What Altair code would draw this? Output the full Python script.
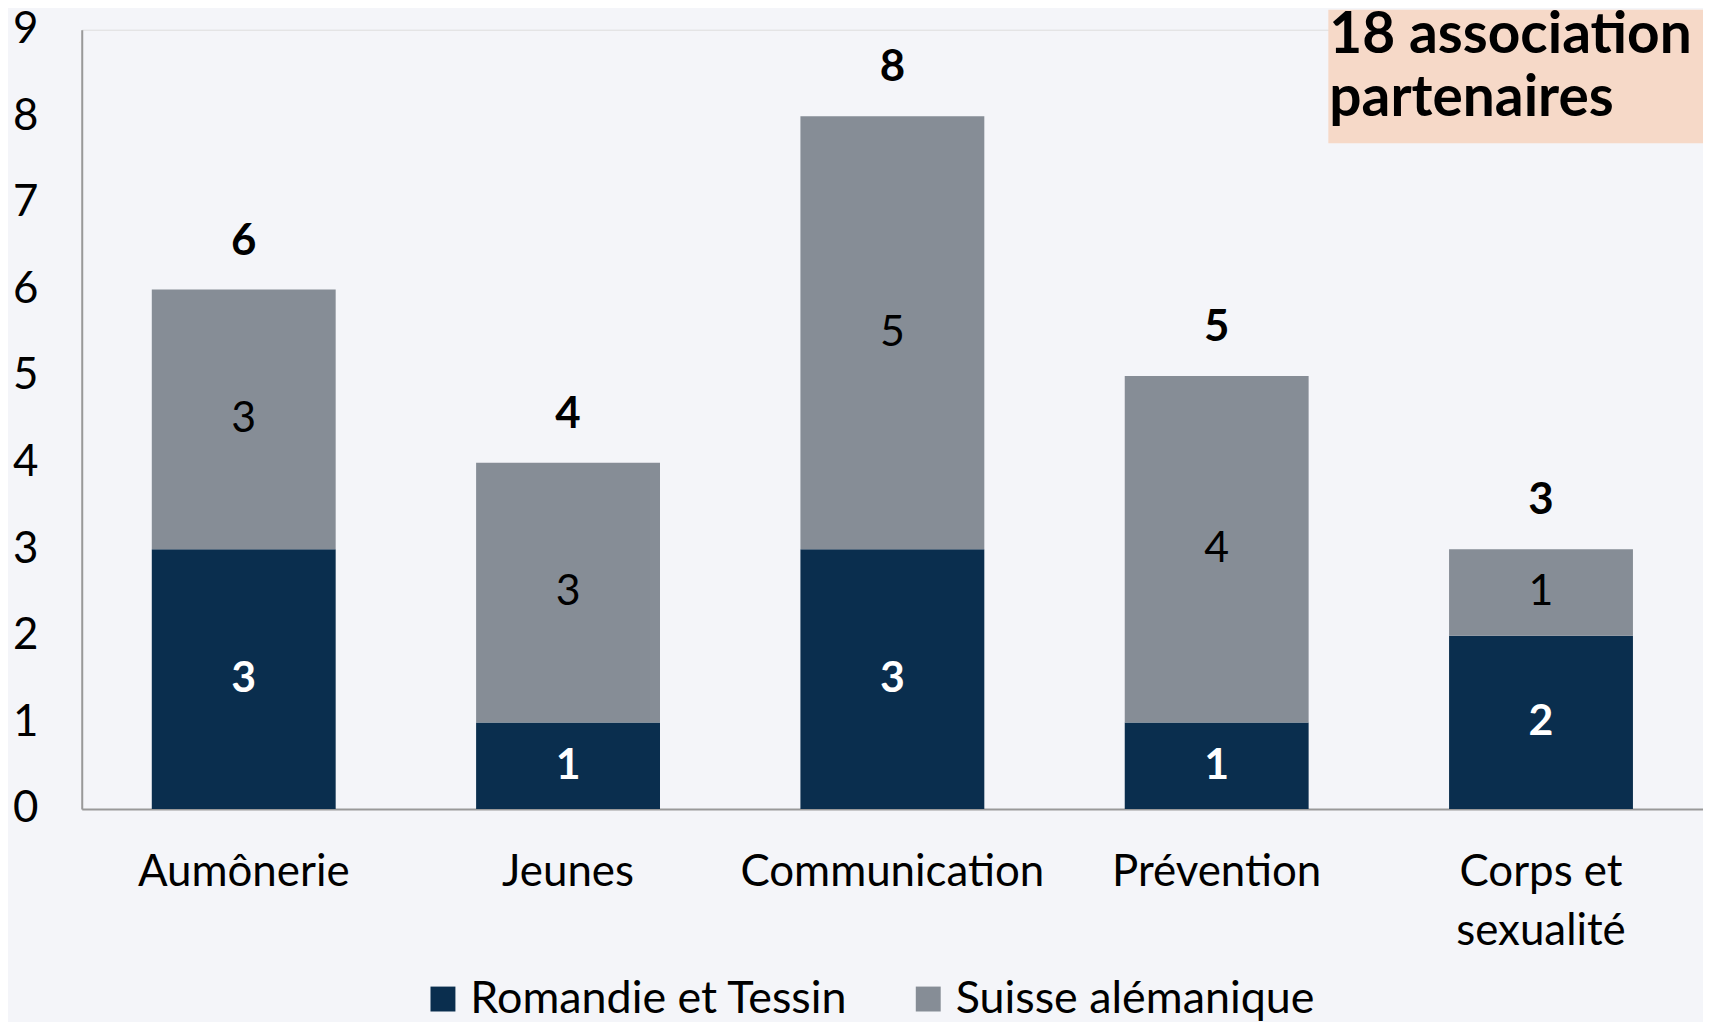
import altair as alt
import pandas as pd

categories = ["Aumônerie", "Jeunes", "Communication", "Prévention", "Corps et sexualité"]
romandie = [3, 1, 3, 1, 2]
suisse = [3, 3, 5, 4, 1]
regions = ["Romandie et Tessin", "Suisse alémanique"]
y_ticks = list(range(0, 10))
note_lines = ["18 association", "partenaires"]

NAVY = "#0A2E4E"
GRAY = "#868D96"
BG = "#F4F5F9"
PEACH = "#F6D9C8"
FONT = "Lato"

rows = []
for c, r, s in zip(categories, romandie, suisse):
    rows.append({"cat": c, "region": regions[0], "value": r, "ord": 0})
    rows.append({"cat": c, "region": regions[1], "value": s, "ord": 1})
df = pd.DataFrame(rows)
totals = pd.DataFrame({"cat": categories, "total": [r + s for r, s in zip(romandie, suisse)]})

x_enc = alt.X(
    "cat:N",
    sort=categories,
    scale=alt.Scale(paddingInner=0.433, paddingOuter=0.216),
    axis=alt.Axis(
        title=None, labelAngle=0, labelFont=FONT, labelFontSize=44, labelColor="black",
        labelBaseline="top", labelPadding=42, labelLineHeight=59, labelLimit=0,
        ticks=False, domainColor="#999999", domainWidth=2,
        labelExpr="datum.label == 'Corps et sexualité' ? ['Corps et', 'sexualité'] : datum.label",
    ),
)
y_scale = alt.Scale(domain=[0, 9], nice=False)
y_axis = alt.Axis(
    title=None, values=y_ticks, format="d", labelFont=FONT, labelFontSize=44, labelColor="black",
    labelPadding=44, ticks=False, grid=False, domainColor="#999999", domainWidth=2,
)

base = alt.Chart(df)

bars = base.mark_bar().encode(
    x=x_enc,
    y=alt.Y("value:Q", stack="zero", scale=y_scale, axis=y_axis),
    color=alt.Color(
        "region:N",
        scale=alt.Scale(domain=regions, range=[NAVY, GRAY]),
        legend=alt.Legend(
            title=None, orient="none", legendX=340, legendY=950, direction="horizontal",
            symbolType="square", symbolSize=625, symbolStrokeWidth=0, symbolOpacity=1,
            labelFont=FONT, labelFontSize=45, labelColor="black", labelOffset=5,
            columnPadding=58, labelLimit=0,
        ),
    ),
    order=alt.Order("ord:Q"),
)

stacked = base.transform_stack(
    stack="value", groupby=["cat"], as_=["y0", "y1"], sort=[alt.SortField("ord")]
).transform_calculate(mid="(datum.y0 + datum.y1) / 2")

lab_dark = stacked.transform_filter(alt.datum.ord == 0).mark_text(
    font=FONT, fontSize=43, fontWeight="bold", color="white", baseline="middle"
).encode(x=alt.X("cat:N", sort=categories), y="mid:Q", text="value:Q")

lab_gray = stacked.transform_filter(alt.datum.ord == 1).mark_text(
    font=FONT, fontSize=43, color="black", baseline="middle"
).encode(x=alt.X("cat:N", sort=categories), y="mid:Q", text="value:Q")

tot = alt.Chart(totals).mark_text(
    font=FONT, fontSize=44, fontWeight="bold", color="black", baseline="middle", dy=-48
).encode(x=alt.X("cat:N", sort=categories), y="total:Q", text="total:Q")

note_df = pd.DataFrame({"k": [0]})
box = alt.Chart(note_df).mark_rect(color=PEACH).encode(
    x=alt.value(1251), x2=alt.value(1650), y=alt.value(-20), y2=alt.value(114)
)
note = alt.Chart(note_df).mark_text(
    text=note_lines, font=FONT, fontSize=57, fontWeight="bold", color="black",
    align="left", baseline="alphabetic", lineHeight=64,
).encode(x=alt.value(1252), y=alt.value(23))

chart = alt.layer(box, note, bars, lab_dark, lab_gray, tot).properties(
    width=1627,
    height=782,
    background=BG,
    padding={"left": 74, "top": 20, "right": 0, "bottom": 212},
    autosize=alt.AutoSizeParams(type="none"),
).configure_view(stroke=None).configure(font=FONT)

chart.save("out.html", embed_options={"renderer": "svg", "actions": False})
